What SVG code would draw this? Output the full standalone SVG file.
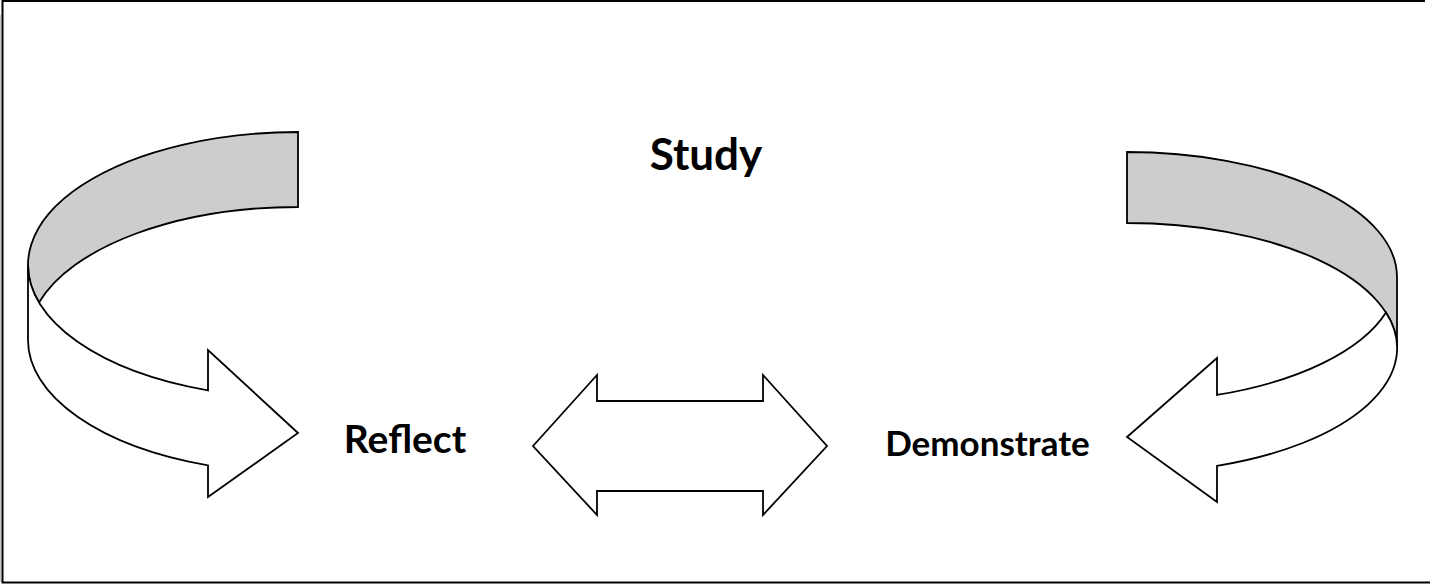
<svg xmlns="http://www.w3.org/2000/svg" width="1430" height="585" viewBox="0 0 1430 585">
<style>
.s{stroke:#000;stroke-width:1.8;stroke-linejoin:miter}
.g{fill:#cdcdcd}
.w{fill:#fff}
.t{font-family:Lato,"Open Sans","Liberation Sans",sans-serif;font-weight:bold;fill:#000;text-anchor:middle}
</style>
<rect x="0" y="0" width="1430" height="585" fill="#fff"/>
<rect x="0" y="15" width="1.2" height="567" fill="#c8c8c8"/>
<path d="M1425,1 H2.5 V582.5 H1430" fill="none" stroke="#000" stroke-width="2"/>
<g id="connectors">
<g id="arrow-left">
<path class="s g" d="M298,132 A270,133 0 0 0 39,302.5 A270,133 0 0 1 298,207 Z"/>
<path class="s w" d="M28,265 A270,133 0 0 0 208,390.4 L208,350 L298,433 L208,497 L208,465.4 A270,133 0 0 1 28,340 Z"/>
</g>
<g id="arrow-right">
<path class="s g" d="M1127,152 A270,125 0 0 1 1397,277 L1397,348 A270,125 0 0 0 1127,223 Z"/>
<path class="s w" d="M1386,312.5 A270,125 0 0 1 1217,394.9 L1217,358 L1127,437 L1217,502 L1217,465.9 A270,125 0 0 0 1386,312.5 Z"/>
</g>
<g id="arrow-double">
<path class="s w" d="M533,446 L597,375 L597,401 L763,401 L763,375 L827,446 L763,515 L763,491 L597,491 L597,515 Z"/>
</g>
</g>
<g id="study"><text class="t" x="706" y="170" font-size="44">Study</text></g>
<g id="reflect"><text class="t" x="405" y="453" font-size="39">Reflect</text></g>
<g id="demonstrate"><text class="t" x="987.5" y="456" font-size="35">Demonstrate</text></g>
</svg>
